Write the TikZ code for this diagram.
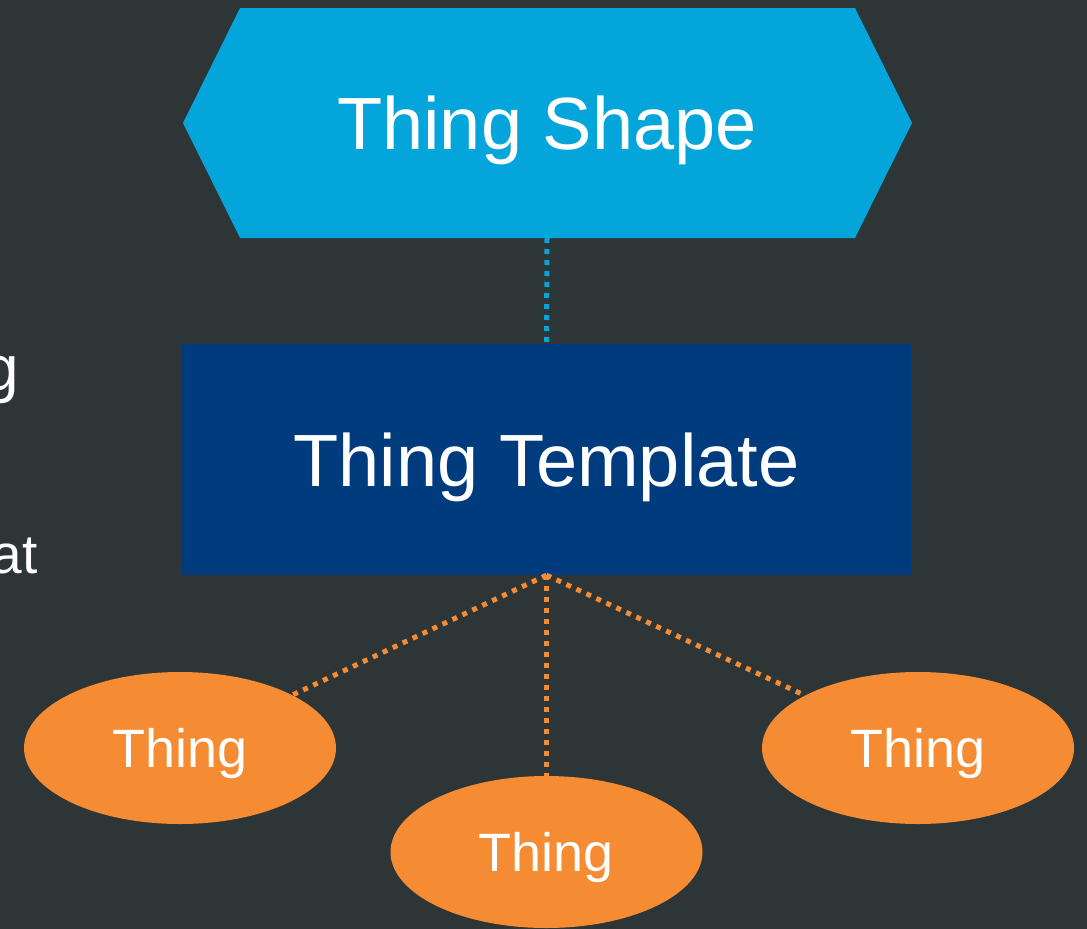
\documentclass[tikz,border=0pt]{standalone}
\usepackage{fontspec}
\setmainfont{Liberation Sans}
\usetikzlibrary{shapes.geometric}
\definecolor{bg}{RGB}{46,53,54}
\definecolor{hexblue}{RGB}{3,165,219}
\definecolor{navy}{RGB}{0,60,125}
\definecolor{orng}{RGB}{245,139,50}
\begin{document}
\begin{tikzpicture}[x=1pt,y=-1pt,
  lbl/.style={text=white, inner sep=0pt},
  bigfont/.style={font=\fontsize{74}{80}\selectfont, text height=53pt, text depth=0pt},
  thingnode/.style={ellipse, fill=orng, minimum width=312pt, minimum height=152pt, inner sep=0pt, text=white, font=\fontsize{54}{60}\selectfont, text height=38.5pt, text depth=0pt},
  tmplnode/.style={rectangle, fill=navy, minimum width=729pt, minimum height=231pt, inner sep=0pt, text=white, bigfont},
  blueDots/.style={draw=hexblue, line width=5pt, dash pattern=on 5pt off 6pt},
  orangeDots/.style={draw=orng, line width=5pt, dash pattern=on 5pt off 6pt}]
\fill[bg] (0,0) rectangle (1087,929);
\useasboundingbox (0,0) rectangle (1087,929);
\clip (0,0) rectangle (1087,929);

% cut-off text at the left edge
\node[lbl, anchor=base east, font=\fontsize{64}{70}\selectfont] (gfrag) at (19,390) {g};
\node[lbl, anchor=base east, font=\fontsize{55}{60}\selectfont] (atfrag) at (38,573) {at};

% connectors (drawn first, under the shapes)
\coordinate (shapebot) at (547,238);
\node[tmplnode] (tmpl) at (546.5,459.5) {Thing Template};
\node[thingnode] (t1) at (180,748) {Thing};
\node[thingnode] (t3) at (918,748) {Thing};
\node[thingnode] (t2) at (546.5,852) {Thing};

\draw[blueDots] (shapebot) -- (tmpl.north);
\draw[orangeDots] (tmpl.south) -- (t1);
\draw[orangeDots] (tmpl.south) -- (t3);
\draw[orangeDots] (tmpl.south) -- (t2.north);

% hexagon
\fill[hexblue] (183,123) -- (240,8) -- (855,8) -- (912,123) -- (855,238) -- (240,238) -- cycle;
\node[lbl, bigfont] (shape) at (547,123) {Thing Shape};
\end{tikzpicture}
\end{document}
